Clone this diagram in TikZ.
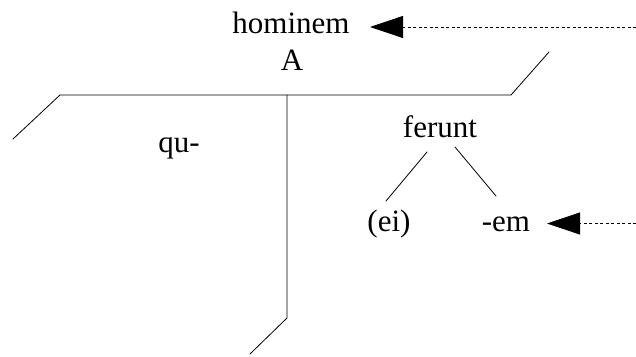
\documentclass[tikz,border=0pt]{standalone}
\usepackage{fontspec}
\setmainfont{Liberation Serif}
\usetikzlibrary{arrows.meta}
\begin{document}
\begin{tikzpicture}[x=1pt,y=-1pt,
  lbl/.style={inner sep=0pt,anchor=base,font=\fontsize{31}{34}\selectfont},
  ln/.style={line width=0.8pt,line cap=round},
  ptr/.style={line width=0.8pt,dash pattern=on 3pt off 2.5pt,-{Triangle[length=33pt,width=22pt]}}]
\useasboundingbox (0,0) rectangle (636,356);
% text nodes
\node[lbl] (hominem) at (291,33) {hominem};
\node[lbl] (A) at (292,70) {A};
\node[lbl] (qu) at (179,152) {qu-};
\node[lbl] (ferunt) at (440,137) {ferunt};
\node[lbl] (ei) at (389,231) {(ei)};
\node[lbl] (em) at (506,231) {-em};
% frame coordinates
\coordinate (l1) at (13,139);
\coordinate (l2) at (60,95);
\coordinate (m) at (287,95);
\coordinate (r1) at (511,95);
\coordinate (r2) at (549,52);
\coordinate (b1) at (287,318);
\coordinate (b2) at (250,354);
\draw[ln] (l1) -- (l2) -- (r1) -- (r2);
\draw[ln] (m) -- (b1) -- (b2);
% tree branches
\coordinate (f1) at (427,152);
\coordinate (f2) at (386,201);
\coordinate (g1) at (455,147);
\coordinate (g2) at (496,196);
\draw[ln] (f1) -- (f2);
\draw[ln] (g1) -- (g2);
% pointer arrows
\coordinate (s1) at (636,27);
\coordinate (t1) at (370,27);
\coordinate (s2) at (636,223.5);
\coordinate (t2) at (547,223.5);
\draw[ptr] (s1) -- (t1);
\draw[ptr] (s2) -- (t2);
\end{tikzpicture}
\end{document}
